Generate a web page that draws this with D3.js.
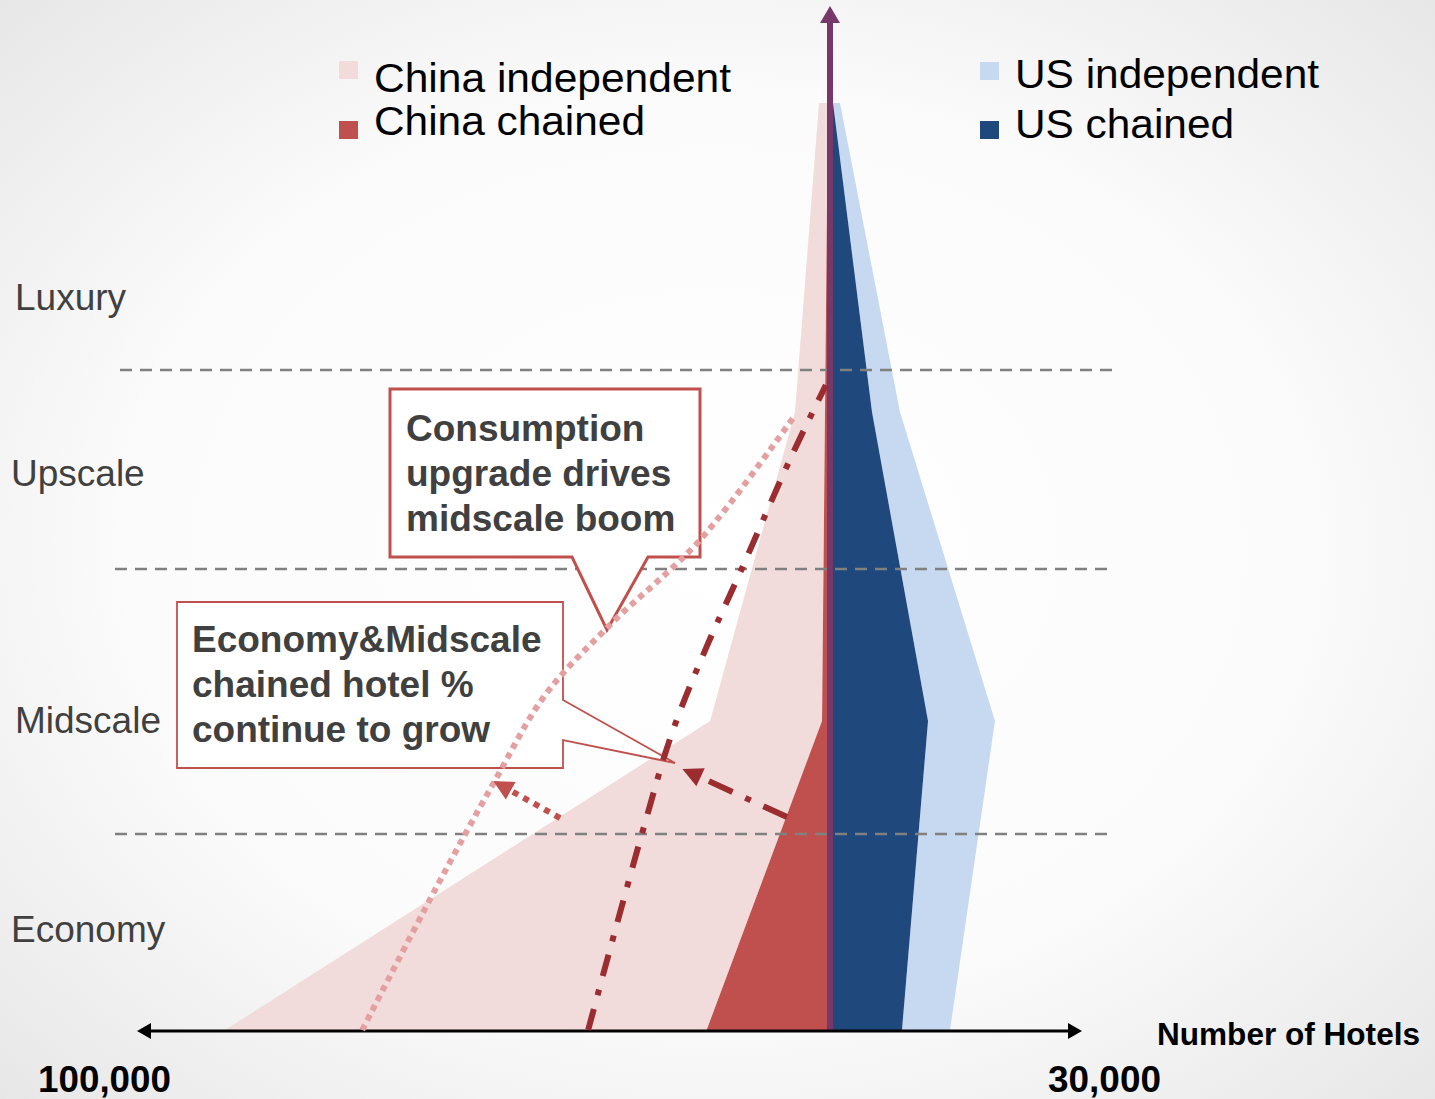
<!DOCTYPE html>
<html><head><meta charset="utf-8">
<script src="https://cdn.jsdelivr.net/npm/d3@7"></script>
<style>html,body{margin:0;padding:0;background:#fff;}svg{display:block;}</style>
</head><body>
<script>
// ---------- data ----------
const tiers = ["Economy", "Midscale", "Upscale", "Luxury"];
const chinaChained     = [17800, 1150, 720, 290];
const chinaIndependent = [69500, 16150, 4330, 1300];
const usChained        = [8570, 11670, 5000, 360];
const usIndependent    = [5720, 7970, 3330, 830];
const chinaMaxLabel = "100,000";
const usMaxLabel = "30,000";
const chinaMax = 100000;
const usMax = 30000;
// tier boundaries (continuous tier units, 0 = Economy ... 3 = Luxury)
const tierBoundaries = [0.634, 1.492, 2.136];
const tierLabelPos = [0.327, 1.003, 1.803, 2.372];
// trend annotations in data units: [China hotels, tier position]
const independentTrend = [[67500,0],[57000,0.453],[48300,0.809],[41100,1.084],[31750,1.311],[18750,1.586],[5050,1.99]];
const chainedTrend = [[34900,0],[27100,0.638],[22800,0.961],[18000,1.23],[13000,1.479],[5800,1.845],[600,2.087]];
const indepArrow = [[38950,0.686],[48600,0.806]];
const chainArrow = [[6200,0.689],[21300,0.845]];

const W = 1435, H = 1099, cx = 830;
const svg = d3.select("body").append("svg").attr("width", W).attr("height", H);
const defs = svg.append("defs");
const rg = defs.append("radialGradient").attr("id","bg").attr("cx","50%").attr("cy","50%").attr("r","75%");
rg.append("stop").attr("offset","0").attr("stop-color","#ffffff");
rg.append("stop").attr("offset","0.55").attr("stop-color","#fbfbfb");
rg.append("stop").attr("offset","1").attr("stop-color","#e4e4e4");
svg.append("rect").attr("width",W).attr("height",H).attr("fill","url(#bg)");

const FONT = "'Liberation Sans', Arial, sans-serif";
const y = d3.scaleLinear().domain([0,3]).range([1030,103]);
const xC = d3.scaleLinear().domain([0,chinaMax]).range([cx,137]);
const xU = d3.scaleLinear().domain([0,usMax]).range([cx,1082]);

// ---------- stacked areas ----------
function sideAreas(chained, indep, xs, cChain, cIndep){
  const rows = tiers.map((t,i)=>({i, chained:chained[i], independent:indep[i]}));
  const st = d3.stack().keys(["chained","independent"])(rows);
  const area = d3.area().y(d=>y(d.data.i)).x0(d=>xs(d[0])).x1(d=>xs(d[1]));
  svg.append("path").attr("d", area(st[1])).attr("fill", cIndep);
  svg.append("path").attr("d", area(st[0])).attr("fill", cChain);
}
sideAreas(chinaChained, chinaIndependent, xC, "#c0504d", "#f2dcdb");
sideAreas(usChained, usIndependent, xU, "#1f497d", "#c6d9f1");

// ---------- dashed tier boundaries ----------
const bx = [[120,1118],[115,1112],[115,1112]];
tierBoundaries.forEach((b,i)=>{
  svg.append("line").attr("x1",bx[2-i][0]).attr("x2",bx[2-i][1]).attr("y1",y(b)).attr("y2",y(b))
    .attr("stroke","#808080").attr("stroke-width",2.5).attr("stroke-dasharray","12 8");
});

// ---------- centre arrow ----------
svg.append("line").attr("x1",cx).attr("x2",cx).attr("y1",y(0)).attr("y2",22)
  .attr("stroke","#763869").attr("stroke-width",6);
svg.append("path").attr("d",`M${cx},6 L${cx-10},23 L${cx+10},23 Z`).attr("fill","#763869");

// ---------- horizontal axis ----------
svg.append("line").attr("x1",xC(chinaMax)+10).attr("x2",xU(usMax)-10).attr("y1",y(0)+1).attr("y2",y(0)+1)
  .attr("stroke","#000").attr("stroke-width",3);
svg.append("path").attr("d",`M${xC(chinaMax)},${y(0)+1} l14,-8 l0,16 Z`).attr("fill","#000");
svg.append("path").attr("d",`M${xU(usMax)},${y(0)+1} l-14,-8 l0,16 Z`).attr("fill","#000");
svg.append("text").attr("x",38).attr("y",1092).attr("font-family",FONT)
  .attr("font-weight","bold").attr("font-size",37).attr("textLength",133).attr("lengthAdjust","spacingAndGlyphs")
  .attr("fill","#000").text(chinaMaxLabel);
svg.append("text").attr("x",1048).attr("y",1092).attr("font-family",FONT)
  .attr("font-weight","bold").attr("font-size",37).attr("textLength",113).attr("lengthAdjust","spacingAndGlyphs")
  .attr("fill","#000").text(usMaxLabel);
svg.append("text").attr("x",1157).attr("y",1045).attr("font-family",FONT)
  .attr("font-weight","bold").attr("font-size",31).attr("textLength",263).attr("lengthAdjust","spacingAndGlyphs")
  .attr("fill","#000").text("Number of Hotels");

// ---------- tier labels ----------
const labelX = [11,15,11,15];
tiers.forEach((t,i)=>{
  svg.append("text").attr("x",labelX[i]).attr("y",y(tierLabelPos[i])+13).attr("font-family",FONT)
    .attr("font-size",37).attr("fill","#404040").text(t);
});

// ---------- legends ----------
const legends = [
  {x:339,y:61,c:"#f2dcdb",t:"China independent",ty:92,w:357},
  {x:339,y:121,c:"#c0504d",t:"China chained",ty:135,w:271},
  {x:980,y:62,c:"#c6d9f1",t:"US independent",ty:88,w:304},
  {x:980,y:121,c:"#1f497d",t:"US chained",ty:138,w:219}
];
legends.forEach(l=>{
  svg.append("rect").attr("x",l.x).attr("y",l.y).attr("width",19).attr("height",18).attr("fill",l.c);
  svg.append("text").attr("x",l.x+35).attr("y",l.ty).attr("font-family",FONT).attr("font-size",41)
    .attr("textLength",l.w).attr("lengthAdjust","spacingAndGlyphs")
    .attr("fill","#000").text(l.t);
});

// ---------- callout boxes ----------
svg.append("path").attr("d","M390,389 H700 V557 H648 L607,630 L572,557 H390 Z")
  .attr("fill","#fff").attr("stroke","#c0504d").attr("stroke-width",3);
svg.append("path").attr("d","M177,602 H563 V700 L675,763 L563,740 V768 H177 Z")
  .attr("fill","#fff").attr("stroke","#c0504d").attr("stroke-width",1.8);
const box1 = ["Consumption","upgrade drives","midscale boom"];
const box2 = ["Economy&Midscale","chained hotel %","continue to grow"];
box1.forEach((t,i)=>svg.append("text").attr("x",406).attr("y",441+i*45).attr("font-family",FONT)
  .attr("font-weight","bold").attr("font-size",37).attr("fill","#404040").text(t));
box2.forEach((t,i)=>svg.append("text").attr("x",192).attr("y",652+i*45).attr("font-family",FONT)
  .attr("font-weight","bold").attr("font-size",37).attr("fill","#404040").text(t));

// ---------- trend lines ----------
const trendLine = d3.line().x(d=>xC(d[0])).y(d=>y(d[1])).curve(d3.curveCatmullRom);
svg.append("path").attr("d",trendLine(independentTrend)).attr("fill","none")
  .attr("stroke","#e4a0a0").attr("stroke-width",6).attr("stroke-dasharray","6 5");
svg.append("path").attr("d",trendLine(chainedTrend)).attr("fill","none")
  .attr("stroke","#9b2d30").attr("stroke-width",6).attr("stroke-dasharray","22 14 6 14");

function arrow(pts, color, dash){
  const x1=xC(pts[0][0]), y1=y(pts[0][1]), x2=xC(pts[1][0]), y2=y(pts[1][1]);
  const ang=Math.atan2(y2-y1,x2-x1), L=20, hw=10;
  const bxp=x2-L*Math.cos(ang), byp=y2-L*Math.sin(ang);
  svg.append("line").attr("x1",x1).attr("y1",y1).attr("x2",bxp).attr("y2",byp)
    .attr("stroke",color).attr("stroke-width",6).attr("stroke-dasharray",dash);
  const px=-Math.sin(ang)*hw, py=Math.cos(ang)*hw;
  svg.append("path").attr("d",`M${x2},${y2} L${bxp+px},${byp+py} L${bxp-px},${byp-py} Z`).attr("fill",color);
}
arrow(indepArrow, "#c0504d", "6 6");
arrow(chainArrow, "#9b2d30", "26 14 6 14");
</script>
</body></html>
